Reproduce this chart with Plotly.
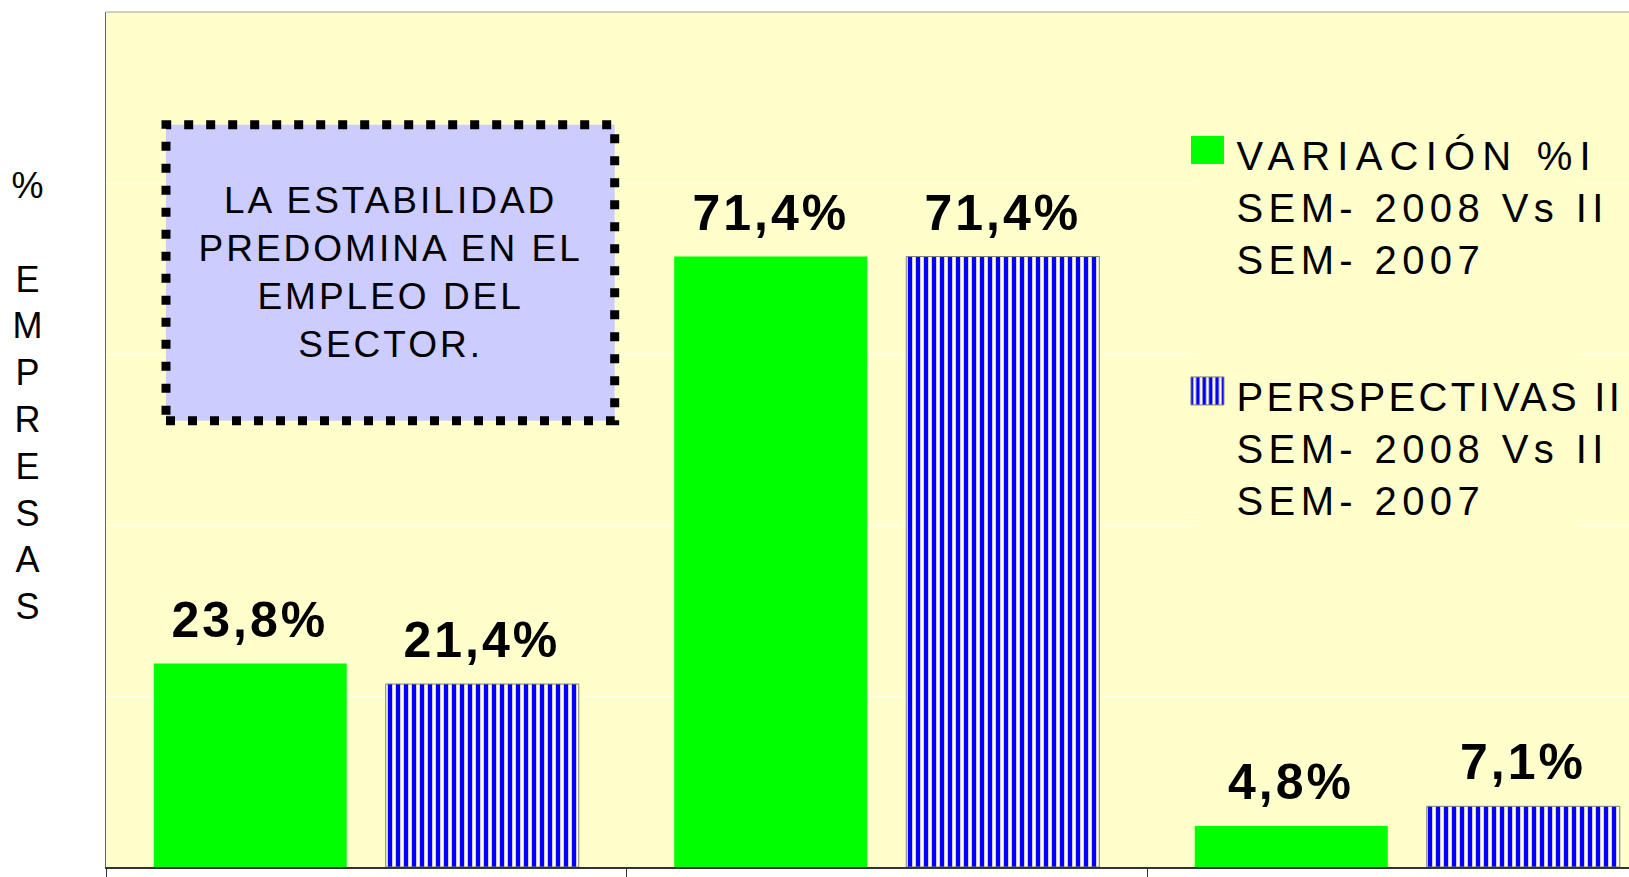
import plotly.graph_objects as go

# ---- data ----
categories = ["Aumentó", "Se mantuvo", "Disminuyó"]
variacion = [23.8, 71.4, 4.8]
perspectivas = [21.4, 71.4, 7.1]
series_names = [
    "VARIACIÓN %I<br>SEM- 2008 Vs II<br>SEM- 2007",
    "PERSPECTIVAS II<br>SEM- 2008 Vs II<br>SEM- 2007",
]
box_text = "LA ESTABILIDAD<br>PREDOMINA EN EL<br>EMPLEO DEL<br>SECTOR."
y_title = "%<br><br>E<br>M<br>P<br>R<br>E<br>S<br>A<br>S"

FONT = "Liberation Sans, Arial, sans-serif"
BG = "#FFFFCC"
BARGAP = 0.1085
BARGROUPGAP = 0.168


def fmt(v):
    return f"{v:.1f}%".replace(".", ",")


fig = go.Figure()
fig.add_bar(
    x=categories, y=variacion, name=series_names[0], legendgroup="a",
    marker=dict(color="#00FF00", line=dict(width=0)),
)
fig.add_bar(
    x=categories, y=perspectivas, name=series_names[1], legendgroup="b",
    marker=dict(
        color="#0000FF",
        line=dict(color="#808080", width=1),
        pattern=dict(shape="|", fillmode="replace", fgcolor="#0000FF", fgopacity=1,
                     bgcolor=BG, size=8, solidity=0.55),
    ),
)

# value labels above bars
slot = (1 - BARGAP) / 2
for j, vals in enumerate([variacion, perspectivas]):
    off = (j - 0.5) * slot
    for i, v in enumerate(vals):
        fig.add_annotation(
            x=i + off, y=v, xref="x", yref="y", text=fmt(v), showarrow=False,
            yanchor="bottom", yshift=14,
            font=dict(size=50, family=FONT, color="black", weight="bold"),
        )

# note box
fig.add_shape(
    type="rect", xref="paper", yref="paper",
    x0=0.0394, x1=0.334, y0=0.522, y1=0.868,
    fillcolor="#CCCCFF", line=dict(color="black", width=9, dash="9px,13px"),
    layer="above",
)
fig.add_annotation(
    xref="paper", yref="paper", x=(0.0394 + 0.334) / 2, y=(0.522 + 0.868) / 2,
    text=box_text, showarrow=False, xanchor="center", yanchor="middle",
    font=dict(size=37, family=FONT, color="black"),
)

# vertical y title
fig.add_annotation(
    xref="paper", yref="paper", x=-0.0506, y=0.5506, text=y_title,
    showarrow=False, xanchor="center", yanchor="middle",
    font=dict(size=36, family=FONT, color="black"),
)

# top frame line
fig.add_shape(type="line", xref="paper", yref="paper", x0=0, x1=1, y0=1, y1=1,
              line=dict(color="#A0A0A0", width=1))

fig.update_layout(
    width=1629, height=877,
    margin=dict(l=106, r=0, t=12, b=10),
    paper_bgcolor="white", plot_bgcolor=BG,
    barmode="group", bargap=BARGAP, bargroupgap=BARGROUPGAP,
    showlegend=True,
    legend=dict(
        x=0.716, y=0.872, xanchor="left", yanchor="top",
        bgcolor=BG, font=dict(size=40, family=FONT, color="black"),
        traceorder="grouped", tracegroupgap=82, valign="top",
    ),
    xaxis=dict(
        range=[-0.5, 2.426], showticklabels=False, showgrid=False,
        showline=True, linecolor="#333333", linewidth=1.5,
        ticks="outside", tickson="boundaries", ticklen=10, tickcolor="#333333",
    ),
    yaxis=dict(
        range=[0, 100], dtick=20, showticklabels=False, showgrid=True,
        gridcolor="#FFFFF0", gridwidth=1, zeroline=False,
        showline=True, linecolor="#666666", linewidth=1,
    ),
)

post = """
var gd = document.getElementById('{plot_id}');
document.body.style.margin = '0';
document.body.style.overflow = 'hidden';
function tweak() {
  gd.querySelectorAll('.legend [clip-path]').forEach(function (e) { e.removeAttribute('clip-path'); });
  gd.querySelectorAll('.legendtext').forEach(function (t) {
    t.style.letterSpacing = '5.4px';
    t.querySelectorAll('tspan').forEach(function (s) {
      var c = s.textContent || '';
      if (c.indexOf('PERSPECTIVAS') === 0) s.style.letterSpacing = '3.3px';
      else if (c.indexOf('VARIACI') === 0) s.style.letterSpacing = '7.2px';
    });
  });
  gd.querySelectorAll('.annotation-text').forEach(function (t) { t.style.letterSpacing = '3px'; });
  gd.querySelectorAll('.legendpoints path').forEach(function (p) {
    if (p.getAttribute('data-big')) return;
    var tr = p.getAttribute('transform') || '';
    p.setAttribute('transform', tr + ' translate(-9,-4)');
    p.setAttribute('d', 'M16.5,14H-16.5V-14H16.5Z');
    p.setAttribute('data-big', '1');
  });
}
tweak();
gd.on('plotly_afterplot', tweak);
"""

fig.write_html("out.html", config={"displayModeBar": False}, post_script=post)
